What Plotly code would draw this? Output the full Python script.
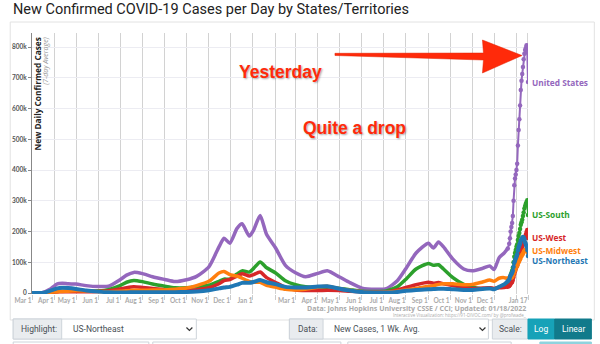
import plotly.graph_objects as go

# ---------------- data ----------------
dates = [
    "2020-03-01", "2020-03-15", "2020-03-25", "2020-04-05", "2020-04-12", "2020-04-20",
    "2020-05-01", "2020-05-15", "2020-06-01", "2020-06-15", "2020-07-01", "2020-07-10",
    "2020-07-20", "2020-08-01", "2020-08-15", "2020-09-01", "2020-09-15", "2020-10-01",
    "2020-10-15", "2020-11-01", "2020-11-15", "2020-11-22", "2020-11-30", "2020-12-10",
    "2020-12-17", "2020-12-27", "2021-01-02", "2021-01-11", "2021-01-20", "2021-02-01",
    "2021-02-15", "2021-03-01", "2021-03-15", "2021-04-01", "2021-04-14", "2021-05-01",
    "2021-05-15", "2021-06-01", "2021-06-20", "2021-07-05", "2021-07-20", "2021-08-01",
    "2021-08-15", "2021-09-01", "2021-09-08", "2021-09-15", "2021-09-22", "2021-10-05",
    "2021-10-20", "2021-11-01", "2021-11-15", "2021-11-25", "2021-12-01", "2021-12-08",
    "2021-12-15", "2021-12-20",
    "2021-12-22", "2021-12-23", "2021-12-24", "2021-12-25", "2021-12-26", "2021-12-27",
    "2021-12-28", "2021-12-29", "2021-12-30", "2021-12-31", "2022-01-01", "2022-01-02",
    "2022-01-03", "2022-01-04", "2022-01-05", "2022-01-06", "2022-01-07", "2022-01-08",
    "2022-01-09", "2022-01-10", "2022-01-11", "2022-01-12", "2022-01-13", "2022-01-14",
    "2022-01-15", "2022-01-16", "2022-01-17",
]

united_states = [
    0, 700, 11000, 30000, 32000, 30000, 29000, 24000, 21000, 22000, 43000, 58000,
    67000, 63000, 53000, 44000, 37000, 43000, 54000, 85000, 150000, 178000, 162000, 210000,
    225000, 185000, 205000, 252000, 190000, 148000, 90000, 66000, 53000, 64000, 72000, 52000,
    34000, 16000, 12000, 14000, 40000, 80000, 130000, 162000, 146000, 166000, 150000, 110000,
    78000, 72000, 80000, 88000, 76000, 115000, 130000, 145000,
    160000, 178000, 200000, 215000, 228000, 250000, 300000, 350000, 372000, 385000, 400000, 420000,
    480000, 530000, 565000, 610000, 660000, 690000, 712000, 735000, 760000, 778000, 790000, 797000,
    806000, 782000, 686000,
]

us_south = [
    0, 100, 2000, 5500, 6000, 5500, 6000, 6000, 7000, 11000, 24000, 35000,
    41000, 37000, 29000, 22000, 17000, 17000, 20000, 25000, 38000, 45000, 45000, 62000,
    72000, 68000, 80000, 101000, 82000, 66000, 40000, 27000, 20000, 18000, 19000, 15000,
    11000, 6000, 5000, 7000, 20000, 45000, 78000, 96000, 90000, 92000, 78000, 50000,
    28000, 19000, 14000, 16000, 14000, 19000, 23000, 32000,
    40000, 48000, 58000, 65000, 72000, 82000, 100000, 118000, 130000, 140000, 150000, 158000,
    172000, 185000, 195000, 208000, 222000, 230000, 238000, 250000, 262000, 275000, 283000, 290000,
    296000, 302000, 254000,
]

us_west = [
    0, 200, 2500, 3500, 4000, 4000, 4200, 4000, 5000, 7000, 13000, 17000,
    20000, 18000, 15000, 10000, 8000, 9000, 11000, 17000, 30000, 40000, 44000, 55000,
    63000, 55000, 60000, 68000, 50000, 35000, 18000, 10000, 8000, 8000, 9000, 8000,
    6000, 4000, 3000, 4000, 10000, 18000, 27000, 35000, 32000, 34000, 30000, 24000,
    18000, 15000, 16000, 17000, 15000, 17000, 18000, 20000,
    23000, 26000, 30000, 33000, 36000, 42000, 52000, 62000, 70000, 78000, 85000, 90000,
    100000, 110000, 120000, 128000, 138000, 145000, 150000, 160000, 168000, 175000, 182000, 190000,
    198000, 205000, 179000,
]

us_midwest = [
    0, 100, 2000, 4000, 5000, 6000, 7000, 6500, 4500, 4000, 5500, 7500,
    9000, 9000, 9500, 10000, 12000, 16000, 24000, 38000, 65000, 70000, 60000, 55000,
    48000, 38000, 35000, 35000, 25000, 19000, 12000, 10000, 12000, 19000, 22000, 14000,
    9000, 4000, 2500, 3000, 6000, 10000, 15000, 22000, 24000, 28000, 30000, 30000,
    27000, 28000, 36000, 42000, 38000, 48000, 50000, 47000,
    48000, 50000, 52000, 50000, 52000, 56000, 62000, 68000, 74000, 80000, 85000, 88000,
    95000, 100000, 105000, 110000, 116000, 120000, 124000, 128000, 133000, 137000, 140000, 140000,
    139000, 136000, 130000,
]

us_northeast = [
    0, 300, 6000, 15000, 17000, 16000, 13000, 8000, 4500, 2500, 2000, 2000,
    2200, 2300, 2300, 2500, 2800, 3500, 5000, 9000, 15000, 18000, 20000, 27000,
    33000, 33000, 36000, 42000, 35000, 29000, 20000, 18000, 18000, 21000, 22000, 14000,
    8000, 3000, 1500, 1500, 3500, 7000, 10000, 12000, 13000, 14000, 14000, 12000,
    10000, 10000, 13000, 15000, 12000, 20000, 28000, 38000,
    45000, 52000, 58000, 62000, 66000, 72000, 85000, 98000, 105000, 112000, 118000, 125000,
    138000, 148000, 155000, 162000, 170000, 175000, 178000, 182000, 180000, 175000, 165000, 158000,
    150000, 140000, 120000,
]

series_names = ["United States", "US-South", "US-West", "US-Midwest", "US-Northeast"]
series_values = [united_states, us_south, us_west, us_midwest, us_northeast]
series_colors = ["#9467bd", "#2ca02c", "#d62728", "#ff7f0e", "#1f77b4"]
label_yshift = [0, 0, 0, 3, -4]

x_tick_vals = [
    "2020-03-01", "2020-04-01", "2020-05-01", "2020-06-01", "2020-07-01", "2020-08-01",
    "2020-09-01", "2020-10-01", "2020-11-01", "2020-12-01", "2021-01-01", "2021-02-01",
    "2021-03-01", "2021-04-01", "2021-05-01", "2021-06-01", "2021-07-01", "2021-08-01",
    "2021-09-01", "2021-10-01", "2021-11-01", "2021-12-01", "2022-01-01", "2022-01-17",
]
x_tick_text = [
    "Mar 1", "Apr 1", "May 1", "Jun 1", "Jul 1", "Aug 1", "Sep 1", "Oct 1", "Nov 1",
    "Dec 1", "Jan 1", "", "Mar 1", "Apr 1", "May 1", "Jun 1", "Jul 1", "Aug 1",
    "Sep 1", "Oct 1", "Nov 1", "Dec 1", "", "Jan 17",
]
y_tick_vals = [0, 100000, 200000, 300000, 400000, 500000, 600000, 700000, 800000]
y_tick_text = ["0", "100k", "200k", "300k", "400k", "500k", "600k", "700k", "800k"]

# ---------------- layout helpers ----------------
W, H = 600, 344
ML, MR, MT, MB = 27, 72, 33, 50
PW, PH = W - ML - MR, H - MT - MB


def pxx(x):
    return (x - ML) / PW


def pxy(y):
    return (H - MB - y) / PH


fig = go.Figure()

split = dates.index("2021-12-20")
for name, vals, col in zip(series_names, series_values, series_colors):
    w = 4 if name == "US-Northeast" else 3.5
    fig.add_trace(go.Scatter(
        x=dates[:split + 1], y=vals[:split + 1], mode="lines",
        line=dict(color=col, width=w, shape="spline", smoothing=0.6),
        hoverinfo="skip", showlegend=False))
    fig.add_trace(go.Scatter(
        x=dates[split:], y=vals[split:], mode="lines+markers",
        line=dict(color=col, width=2), marker=dict(color=col, size=4.5),
        name=name, showlegend=False))

annotations = []
shapes = []

# right edge line (Jan 17)
shapes.append(dict(type="line", xref="x", yref="paper", x0=dates[-1], x1=dates[-1],
                   y0=0, y1=1, line=dict(color="#aaaaaa", width=1), layer="below"))

# series labels
for name, vals, col, ys in zip(series_names, series_values, series_colors, label_yshift):
    annotations.append(dict(
        x=dates[-1], y=vals[-1], xref="x", yref="y", text=name, showarrow=False,
        xanchor="left", yanchor="middle", xshift=2, yshift=ys,
        font=dict(family="Open Sans", size=8.3, color=col, weight=700)))

# title
annotations.append(dict(
    x=pxx(6), y=pxy(10), xref="paper", yref="paper", xanchor="left", yanchor="middle",
    text="New Confirmed COVID-19 Cases per Day by States/Territories", showarrow=False,
    font=dict(family="Roboto", size=14.5, color="#222222")))

# y-axis titles inside plot
annotations.append(dict(
    x=pxx(33), y=pxy(35), xref="paper", yref="paper", xanchor="center", yanchor="top",
    text="New Daily Confirmed Cases", textangle=-90, showarrow=False,
    font=dict(family="Open Sans", size=8.3, color="#222222", weight=700)))
annotations.append(dict(
    x=pxx(41), y=pxy(35), xref="paper", yref="paper", xanchor="center", yanchor="top",
    text="<i>(7-day Average)</i>", textangle=-90, showarrow=False,
    font=dict(family="Open Sans", size=7, color="#999999")))

# callouts
callout_font = dict(family="Liberation Sans", size=17.5, color="#ff2a0a", weight=700,
                    shadow="1px 1px 2px rgba(0,0,0,0.35)")
annotations.append(dict(x=pxx(278), y=pxy(60), xref="paper", yref="paper",
                        text="Yesterday", showarrow=False, font=callout_font))
annotations.append(dict(x=pxx(353), y=pxy(128), xref="paper", yref="paper",
                        text="Quite a drop", showarrow=False, font=callout_font))

# arrow polygon
arrow_pts = [(333, 53.3), (483, 53.0), (482, 40), (522, 55.5), (482, 73),
             (483, 60.0), (333, 55.5)]
path = "M " + " L ".join(f"{pxx(a):.5f},{pxy(b):.5f}" for a, b in arrow_pts) + " Z"
shapes.append(dict(type="path", xref="paper", yref="paper", path=path,
                   fillcolor="#ff2a0a", line=dict(color="#e02000", width=0.5)))

# source lines
annotations.append(dict(
    x=pxx(528), y=pxy(308), xref="paper", yref="paper", xanchor="right", yanchor="middle",
    text="Data: Johns Hopkins University CSSE / CCI; Updated: 01/18/2022", showarrow=False,
    font=dict(family="Open Sans", size=7, color="#aaaaaa", weight=700)))
annotations.append(dict(
    x=pxx(528), y=pxy(315), xref="paper", yref="paper", xanchor="right", yanchor="middle",
    text="Interactive Visualization: https://91-DIVOC.com/ by @profwade_", showarrow=False,
    font=dict(family="Open Sans", size=4.5, color="#aaaaaa")))

# outer chart box
shapes.append(dict(type="rect", xref="paper", yref="paper", x0=pxx(5), x1=pxx(595),
                   y0=pxy(320), y1=pxy(22), line=dict(color="#e2e2e2", width=1),
                   layer="below"))


def rect(x0, y0, x1, y1, fill, line="#ced4da"):
    shapes.append(dict(type="rect", xref="paper", yref="paper", x0=pxx(x0), x1=pxx(x1),
                       y0=pxy(y1), y1=pxy(y0), fillcolor=fill,
                       line=dict(color=line, width=1)))


def label(x, y, text, anchor="left", color="#495057", size=8.5):
    annotations.append(dict(x=pxx(x), y=pxy(y), xref="paper", yref="paper",
                            xanchor=anchor, yanchor="middle", text=text, showarrow=False,
                            font=dict(family="Roboto", size=size, color=color)))


def chevron(x, y):
    p = f"M {pxx(x-3):.5f},{pxy(y-1.5):.5f} L {pxx(x):.5f},{pxy(y+1.5):.5f} L {pxx(x+3):.5f},{pxy(y-1.5):.5f}"
    shapes.append(dict(type="path", xref="paper", yref="paper", path=p,
                       line=dict(color="#333333", width=1.2)))


cy = 329
# Highlight
rect(8, 319, 193, 339, "#ffffff")
rect(8, 319, 57, 339, "#e9ecef")
label(14, cy, "Highlight:")
label(66, cy, "US-Northeast")
chevron(186, cy)
# Data
rect(287, 319, 488, 339, "#ffffff")
rect(287, 319, 321, 339, "#e9ecef")
label(294, cy, "Data:")
label(330, cy, "New Cases, 1 Wk. Avg.")
chevron(482, cy)
# Scale
rect(492, 319, 528, 339, "#e9ecef")
label(497, cy, "Scale:")
rect(528, 319, 555, 339, "#17a2b8", line="#17a2b8")
rect(555, 319, 592, 339, "#117a8b", line="#117a8b")
label(541.5, cy, "Log", anchor="center", color="#ffffff")
label(573.5, cy, "Linear", anchor="center", color="#ffffff")
# next row (partially visible)
rect(8, 342, 145, 360, "#ffffff")
rect(149, 342, 339, 360, "#ffffff")
rect(346, 342, 511, 360, "#ffffff")
rect(540, 342, 592, 360, "#8fd3de", line="#8fd3de")

fig.update_layout(
    width=W, height=H,
    margin=dict(l=ML, r=MR, t=MT, b=MB, pad=0),
    paper_bgcolor="#ffffff", plot_bgcolor="#ffffff",
    showlegend=False,
    xaxis=dict(
        type="date", range=["2020-03-01", "2022-01-17"],
        tickmode="array", tickvals=x_tick_vals, ticktext=x_tick_text, tickangle=0,
        ticklabelposition="outside left", ticks="outside", ticklen=5, tickcolor="#cccccc",
        showgrid=True, gridcolor="#d2d2d2", gridwidth=1, showline=False, zeroline=False,
        tickfont=dict(family="Lato", size=6.5, color="#aaaaaa", weight=700),
        fixedrange=True,
    ),
    yaxis=dict(
        range=[-3252, 845528], tickmode="array", tickvals=y_tick_vals, ticktext=y_tick_text,
        ticks="outside", ticklen=3, tickcolor="#888888",
        showgrid=True, gridcolor="#ececf2", gridwidth=1, zeroline=False,
        showline=True, linecolor="#888888", linewidth=1,
        tickfont=dict(family="Lato", size=6.5, color="#555555", weight=700),
        fixedrange=True,
    ),
    annotations=annotations,
    shapes=shapes,
)

fig.write_html("out.html")
